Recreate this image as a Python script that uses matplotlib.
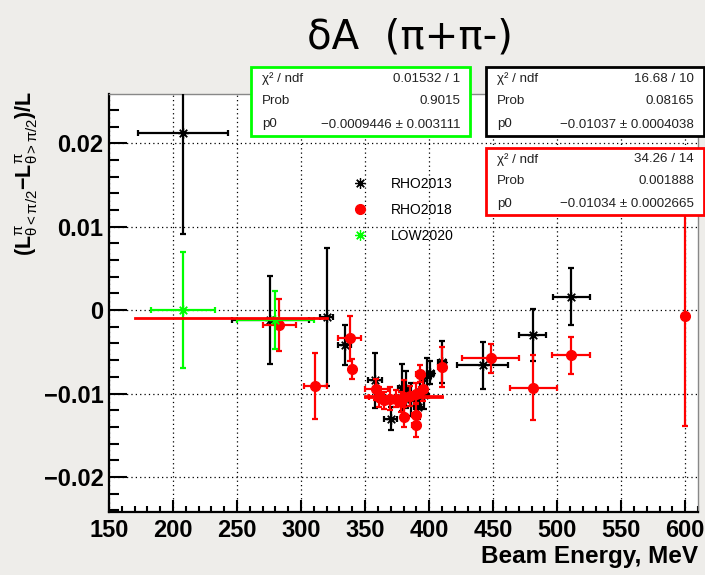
import numpy as np
import matplotlib
matplotlib.use('Agg')
import matplotlib.pyplot as plt
from matplotlib.lines import Line2D
from matplotlib.patches import Rectangle
from matplotlib.ticker import MultipleLocator, FuncFormatter

# RHO2013 (black)
e_2013 = [208, 276, 320, 334, 358, 370, 378.5, 382, 386, 391, 393, 396, 398.7, 401, 410, 442, 481, 511]
a_2013 = [0.0212, -0.0012, -0.0008, -0.0042, -0.0084, -0.0130, -0.0093, -0.0095, -0.0107, -0.0116,
          -0.0098, -0.0102, -0.0079, -0.0075, -0.0062, -0.0066, -0.0030, 0.0016]
da_2013 = [0.0121, 0.0053, 0.0083, 0.0024, 0.0033, 0.0014, 0.0028, 0.0022, 0.0020, 0.0015,
           0.0018, 0.0017, 0.0022, 0.0014, 0.0025, 0.0028, 0.0031, 0.0034]
de_2013 = [35, 30, 5, 5, 5.5, 5, 3, 3, 3, 3, 3, 3, 3, 3, 3, 20, 10.5, 14.5]

# RHO2018 (red)
e_2018 = [283, 311, 338, 339.5, 358.6, 361, 365, 369.5, 374, 378, 380.7, 380.7, 385, 389.5, 390,
          390, 393, 395, 409.8, 448, 481.5, 510.7, 600]
a_2018 = [-0.0018, -0.0091, -0.0034, -0.0071, -0.0095, -0.0104, -0.0108, -0.0106, -0.0106, -0.0110,
          -0.0104, -0.0128, -0.0103, -0.0138, -0.0126, -0.0100, -0.0076, -0.0094, -0.0068,
          -0.0058, -0.0093, -0.0054, -0.0007]
da_2018 = [0.0031, 0.0039, 0.0027, 0.0012, 0.0013, 0.0012, 0.0010, 0.0014, 0.0010, 0.0012,
           0.0020, 0.0012, 0.0012, 0.0014, 0.0015, 0.0013, 0.0010, 0.0015, 0.0024,
           0.0017, 0.0039, 0.0022, 0.0132]
de_2018 = [13, 9, 9, 0, 9, 8, 5, 4, 4, 3, 3, 3, 3, 3, 3, 3, 3, 3, 3, 22.5, 18, 15, 0]

# LOW2020 (green)
e_2020 = [207.5, 280]
a_2020 = [0.0, -0.0012]
da_2020 = [0.0070, 0.0035]
de_2020 = [25, 30]

# pol0 fits: value, range
fit_2020 = (-0.0009446, 170, 320)
fit_2013 = (-0.01037, 350, 410)
fit_2018 = (-0.01034, 350, 410)

# stat boxes
stats_2020 = ['0.01532 / 1', '0.9015', '\u22120.0009446 \u00b1 0.003111']
stats_2013 = ['16.68 / 10', '0.08165', '\u22120.01037 \u00b1 0.0004038']
stats_2018 = ['34.26 / 14', '0.001888', '\u22120.01034 \u00b1 0.0002665']
stat_names = ['\u03c7\u00b2 / ndf', 'Prob', 'p0']

plt.rcParams['font.family'] = ['Liberation Sans', 'DejaVu Sans']
plt.rcParams['mathtext.fontset'] = 'custom'
plt.rcParams['mathtext.rm'] = 'Liberation Sans'
plt.rcParams['mathtext.it'] = 'Liberation Sans'
plt.rcParams['mathtext.bf'] = 'Liberation Sans:bold'

W, H = 705, 575
fig = plt.figure(figsize=(W / 100, H / 100), dpi=100)
fig.patch.set_facecolor('#eeedea')
ax = fig.add_axes([109 / W, 1 - 512 / H, (698 - 109) / W, (512 - 94) / H])
ax.set_facecolor('white')

star = (8, 2, 0)
eb = dict(fmt='none', elinewidth=1.6, capsize=2.2, capthick=1.6)

ax.errorbar(e_2013, a_2013, yerr=da_2013, xerr=de_2013, ecolor='black', zorder=3, **eb)
ax.plot(e_2013, a_2013, ls='none', marker=star, ms=7.5, mew=0.9, color='black', zorder=3)

ax.errorbar(e_2018, a_2018, yerr=da_2018, xerr=de_2018, ecolor='red', zorder=4, **eb)
ax.plot(e_2018, a_2018, ls='none', marker='o', ms=7, color='red', zorder=4)

ax.errorbar(e_2020, a_2020, yerr=da_2020, xerr=de_2020, ecolor='#00ff00', zorder=5, **eb)
ax.plot(e_2020, a_2020, ls='none', marker=star, ms=7.5, mew=0.9, color='#00ff00', zorder=5)

# fit lines (ROOT default red)
for val, lo, hi in [fit_2020, fit_2013, fit_2018]:
    ax.plot([lo, hi], [val, val], color='red', lw=2, zorder=6)

ax.set_xlim(150, 610)
ax.set_ylim(-0.0242, 0.0259)
ax.xaxis.set_major_locator(MultipleLocator(50))
ax.xaxis.set_minor_locator(MultipleLocator(10))
ax.yaxis.set_major_locator(MultipleLocator(0.01))
ax.yaxis.set_minor_locator(MultipleLocator(0.002))
ax.yaxis.set_major_formatter(FuncFormatter(lambda v, p: ('%g' % round(v, 4)).replace('-', '\u2212')))
ax.grid(True, which='major', color='black', ls=(0, (1, 2.5)), lw=0.9)
ax.set_axisbelow(True)

ax.tick_params(axis='both', which='both', direction='in', width=1.5, labelsize=17)
ax.tick_params(axis='y', which='major', length=13, pad=4)
ax.tick_params(axis='y', which='minor', length=7)
ax.tick_params(axis='x', which='major', length=9, pad=5)
ax.tick_params(axis='x', which='minor', length=4.5)
for lab in ax.get_xticklabels() + ax.get_yticklabels():
    lab.set_fontweight('bold')

for s in ['left', 'bottom']:
    ax.spines[s].set_linewidth(1.6)
for s in ['top', 'right']:
    ax.spines[s].set_linewidth(1)
    ax.spines[s].set_color('#888888')

ax.set_xlabel('Beam Energy, MeV', fontsize=17.5, fontweight='bold', loc='right', labelpad=2)
fig.text(27 / W, 1 - 173 / H,
         r'$\mathbf{(L}^{\pi}_{\theta<\pi/2}\mathbf{-L}^{\pi}_{\theta>\pi/2}\mathbf{)/L}$',
         rotation=90, ha='center', va='center', fontsize=15.5)

# legend
handles = [Line2D([], [], ls='none', marker=star, ms=7.5, mew=0.9, color='black'),
           Line2D([], [], ls='none', marker='o', ms=7, color='red'),
           Line2D([], [], ls='none', marker=star, ms=7.5, mew=0.9, color='#00ff00')]
fig.legend(handles, ['RHO2013', 'RHO2018', 'LOW2020'], loc='upper left',
           bbox_to_anchor=(352 / W, 1 - 177 / H), frameon=False, fontsize=10,
           handlelength=1.2, handletextpad=1.6, labelspacing=0.85, borderpad=0, borderaxespad=0)


def stat_box(x0, y0, x1, y1, color, values):
    fig.patches.append(Rectangle((x0 / W, 1 - y1 / H), (x1 - x0) / W, (y1 - y0) / H,
                                 transform=fig.transFigure, facecolor='white',
                                 edgecolor=color, lw=2, zorder=10))
    for i in range(3):
        yy = 1 - (y0 + (y1 - y0) * (2 * i + 1) / 6) / H
        fig.text((x0 + 11) / W, yy, stat_names[i], ha='left', va='center', fontsize=9.6,
                 color='#222222', zorder=11)
        fig.text((x1 - 10) / W, yy, values[i], ha='right', va='center', fontsize=9.6,
                 color='#222222', zorder=11)


stat_box(251, 67, 470, 136, '#00ff00', stats_2020)
stat_box(486, 67, 704, 136, 'black', stats_2013)
stat_box(486, 148, 704, 215, 'red', stats_2018)

fig.text(410 / W, 1 - 37 / H, '\u03b4A  (\u03c0+\u03c0-)', ha='center', va='center',
         fontsize=29, family='DejaVu Sans')

fig.savefig('out.png', dpi=100, facecolor=fig.get_facecolor())
